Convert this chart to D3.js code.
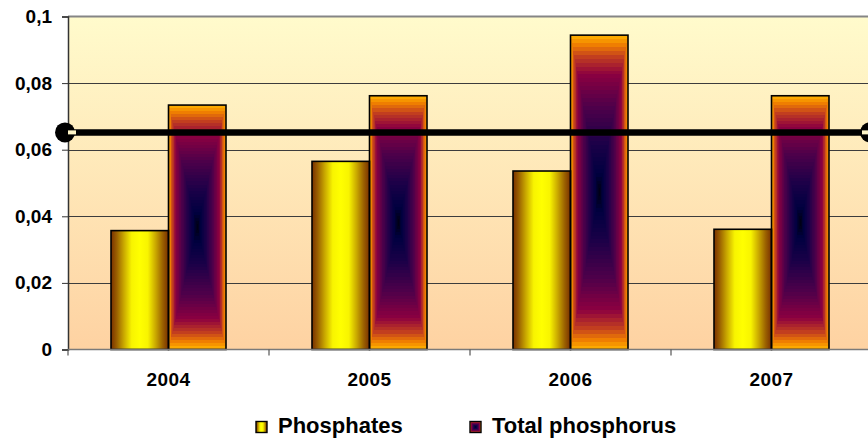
<!DOCTYPE html>
<html><head><meta charset="utf-8">
<script src="https://cdn.jsdelivr.net/npm/d3@7"></script>
<style>body{margin:0;background:#fff}svg{display:block}text{font-family:"Liberation Sans",Arial,sans-serif;font-weight:bold;fill:#000}</style>
</head><body><svg id="c" width="868" height="440"></svg>
<script>
const categories = ["2004","2005","2006","2007"];
const seriesNames = ["Phosphates","Total phosphorus"];
const phosphates = [0.0357, 0.0565, 0.0536, 0.0361];
const totalPhosphorus = [0.0734, 0.0762, 0.0944, 0.0762];
const limitValue = 0.0652;
const yTicks = [0, 0.02, 0.04, 0.06, 0.08, 0.1];
const yTickLabels = ["0","0,02","0,04","0,06","0,08","0,1"];

const svg = d3.select("#c");
const L = 68, R = 872, T = 16.5, B = 349.5;
const x0 = d3.scaleBand().domain(categories).range([L, R]).padding(0);
const x1 = d3.scaleBand().domain(seriesNames).range([0, x0.bandwidth()]).paddingInner(0).paddingOuter(0.748);
const y = d3.scaleLinear().domain([0, 0.1]).range([B, T]);

const defs = svg.append("defs");
const bg = defs.append("linearGradient").attr("id","bg").attr("x1",0).attr("y1",0).attr("x2",0).attr("y2",1);
bg.append("stop").attr("offset",0).attr("stop-color","#fffbcc");
bg.append("stop").attr("offset",1).attr("stop-color","#fed2a2");
const pg = defs.append("linearGradient").attr("id","phos").attr("x1",0).attr("y1",0).attr("x2",1).attr("y2",0);
[[0,"#7a3000"],[0.1,"#9a6000"],[0.22,"#c8a600"],[0.36,"#f8f400"],[0.5,"#ffff00"],[0.64,"#f8f400"],[0.78,"#c8a600"],[0.9,"#9a6000"],[1,"#7a3000"]]
  .forEach(s=>pg.append("stop").attr("offset",s[0]).attr("stop-color",s[1]));

const ramp = d3.scaleLinear()
  .domain([0,0.06,0.14,0.25,0.45,0.7,0.88,1])
  .range(["#ffb400","#f08000","#c03c20","#8c0040","#50004a","#1a0048","#000040","#000010"])
  .interpolate(d3.interpolateRgb);
const N = 40;
const steps = d3.range(N).map(i => i / N);

// plot background
svg.append("rect").attr("x",L).attr("y",T).attr("width",R-L).attr("height",B-T).attr("fill","url(#bg)");

// gridlines
svg.append("g").selectAll("line").data(yTicks.filter(v=>v>0 && v<0.1)).join("line")
  .attr("x1",L).attr("x2",R).attr("y1",d=>Math.round(y(d))+0.5).attr("y2",d=>Math.round(y(d))+0.5)
  .attr("stroke","#3c3c3c").attr("stroke-width",1);
svg.append("line").attr("x1",L).attr("x2",R).attr("y1",T).attr("y2",T).attr("stroke","#858585").attr("stroke-width",2);

// bars
const rows = categories.map((c,i)=>({c, p:phosphates[i], t:totalPhosphorus[i]}));
const g = svg.append("g").selectAll("g").data(rows).join("g").attr("transform",d=>`translate(${x0(d.c)},0)`);
g.append("rect")
  .attr("x",x1("Phosphates")).attr("y",d=>y(d.p)).attr("width",x1.bandwidth()).attr("height",d=>B-y(d.p))
  .attr("fill","url(#phos)");
g.each(function(d){
  const gx = d3.select(this);
  const bx = x1("Total phosphorus"), by = y(d.t), w = x1.bandwidth(), h = B - y(d.t);
  gx.append("g").attr("shape-rendering","crispEdges").selectAll("rect").data(steps).join("rect")
    .attr("x",t=>bx + t*w/2).attr("y",t=>by + t*h/2)
    .attr("width",t=>w*(1-t)).attr("height",t=>h*(1-t))
    .attr("fill",t=>ramp(t + 0.5/N));
});
g.append("rect")
  .attr("x",x1("Phosphates")).attr("y",d=>y(d.p)).attr("width",x1.bandwidth()).attr("height",d=>B-y(d.p))
  .attr("fill","none").attr("stroke","#000").attr("stroke-width",1.6);
g.append("rect")
  .attr("x",x1("Total phosphorus")).attr("y",d=>y(d.t)).attr("width",x1.bandwidth()).attr("height",d=>B-y(d.t))
  .attr("fill","none").attr("stroke","#000").attr("stroke-width",1.6);

// axes
const ya = svg.append("g").attr("transform",`translate(${L},0)`)
  .call(d3.axisLeft(y).tickValues(yTicks).tickFormat((d,i)=>yTickLabels[i]).tickSize(6).tickPadding(10));
ya.select(".domain").attr("stroke","#333").attr("stroke-width",1.5);
ya.selectAll(".tick line").attr("stroke","#333");
ya.selectAll("text").attr("font-size",19).attr("font-family","Liberation Sans, Arial, sans-serif").attr("font-weight","bold").attr("fill","#000");

svg.append("line").attr("x1",L).attr("x2",R).attr("y1",B).attr("y2",B).attr("stroke","#7a7a7a").attr("stroke-width",1.5);
const bounds = categories.map(c=>x0(c)).concat([R]);
svg.append("g").selectAll("line").data(bounds).join("line")
  .attr("x1",d=>d).attr("x2",d=>d).attr("y1",B).attr("y2",B+6).attr("stroke","#555").attr("stroke-width",1.2);
svg.append("g").selectAll("text").data(categories).join("text")
  .attr("x",d=>x0(d)+x0.bandwidth()/2).attr("y",386).attr("text-anchor","middle")
  .attr("font-size",19).attr("letter-spacing","0.4px").text(d=>d);

// limit line
const ly = y(limitValue);
svg.append("line").attr("x1",L).attr("x2",R).attr("y1",ly).attr("y2",ly).attr("stroke","#000").attr("stroke-width",6.5);
svg.append("g").selectAll("circle").data([L-3, R-2]).join("circle")
  .attr("cx",d=>d).attr("cy",ly).attr("r",10).attr("fill","#000");
svg.append("rect").attr("x",L).attr("y",ly-2).attr("width",8).attr("height",4).attr("fill","#fff6c8");
svg.append("rect").attr("x",R-10).attr("y",ly-2).attr("width",8).attr("height",4).attr("fill","#fff6c8");

// legend
const lg = svg.append("g");
const legendX = [256, 470];
lg.append("rect").attr("x",legendX[0]).attr("y",421.5).attr("width",11).attr("height",11).attr("fill","url(#phos)").attr("stroke","#000").attr("stroke-width",1.4);
lg.append("g").attr("shape-rendering","crispEdges").selectAll("rect").data(steps).join("rect")
  .attr("x",t=>legendX[1]+t*5.5).attr("y",t=>421.5+t*5.5).attr("width",t=>11*(1-t)).attr("height",t=>11*(1-t))
  .attr("fill",t=>ramp(t+0.5/N));
lg.append("rect").attr("x",legendX[1]).attr("y",421.5).attr("width",11).attr("height",11).attr("fill","none").attr("stroke","#000").attr("stroke-width",1.4);
lg.selectAll("text.l").data(seriesNames).join("text").attr("class","l")
  .attr("x",(d,i)=>legendX[i]+22).attr("y",433).attr("font-size",22).text(d=>d);
</script></body></html>
